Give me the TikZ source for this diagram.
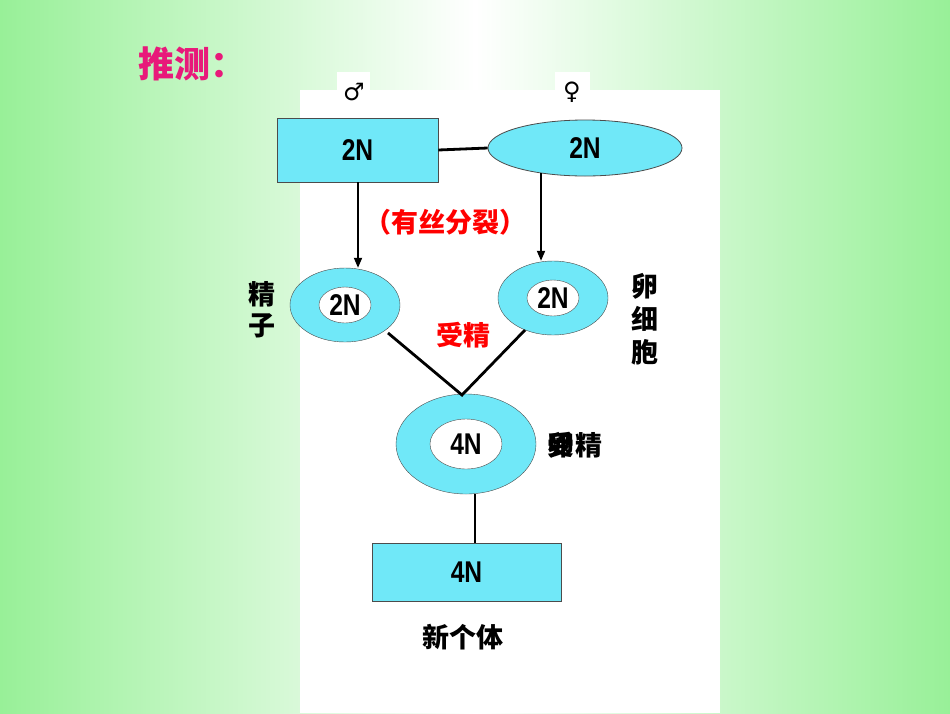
\documentclass[tikz,border=0pt]{standalone}
\usepackage{fontspec}
\setmainfont{Liberation Sans}
\newfontfamily\cjk{Noto Sans CJK SC}
\newfontfamily\narrow[FakeStretch=0.82]{Liberation Sans}
\usetikzlibrary{shapes.geometric,arrows.meta}
\definecolor{cy}{HTML}{70E8F8}
\definecolor{bgg}{HTML}{98F098}
\definecolor{mag}{HTML}{E8197A}
\begin{document}
\begin{tikzpicture}[x=1pt,y=-1pt,
  box/.style={draw=black!70,fill=cy,line width=0.8pt},
  lab/.style={font=\narrow\bfseries\fontsize{30}{32}\selectfont},
  cj/.style={font=\cjk\bfseries\fontsize{27}{30}\selectfont},
  ln/.style={line width=2.8pt}]
\useasboundingbox (0,0) rectangle (950,713);
\shade[left color=bgg,right color=white] (0,0) rectangle (475,713);
\shade[left color=white,right color=bgg] (475,0) rectangle (950,713);
\fill[white] (300,90) rectangle (720,713);
\fill[white] (337,72) rectangle (370,92);
\fill[white] (555,72) rectangle (590,92);
\node[font=\cjk\bfseries\fontsize{36}{40}\selectfont,text=mag] (title) at (192,64) {推测：};
\node[font=\fontsize{24}{26}\selectfont] (male) at (354,92) {\fontspec{DejaVu Sans}♂};
\node[font=\fontsize{24}{26}\selectfont] (female) at (572,92) {\fontspec{DejaVu Sans}♀};
\node[box,minimum width=161,minimum height=64,lab] (r1) at (357.5,150) {2N};
\node[box,ellipse,minimum width=194,minimum height=56,lab] (e1) at (585,148) {2N};
\draw[ln] (r1.east) -- (e1.west);
\node[draw=black!70,fill=cy,ellipse,minimum width=110,minimum height=74] (sp) at (345,305) {};
\node[draw=black!70,fill=white,ellipse,minimum width=52,minimum height=36,inner sep=0pt,lab] (spi) at (345,305) {2N};
\node[draw=black!70,fill=cy,ellipse,minimum width=110,minimum height=74] (eg) at (553,298) {};
\node[draw=black!70,fill=white,ellipse,minimum width=52,minimum height=36,inner sep=0pt,lab] (egi) at (553,298) {2N};
\coordinate (a1) at (358,182);
\coordinate (a2) at (541,173);
\draw[-{Triangle[length=10pt,width=8pt]},line width=1.8pt] (a1) -- (sp.north -| a1);
\draw[-{Triangle[length=10pt,width=8pt]},line width=1.8pt] (a2) -- (eg.north -| a2);
\node[cj,text=red] (mit) at (445,222) {（有丝分裂）};
\node[cj,inner sep=0pt] (jz1) at (262,294) {精};
\node[cj,inner sep=0pt] (jz2) at (262,326) {子};
\node[cj,inner sep=0pt] (lx1) at (645,286) {卵};
\node[cj,inner sep=0pt] (lx2) at (645,319) {细};
\node[cj,inner sep=0pt] (lx3) at (645,352) {胞};
\node[cj,text=red] (sj) at (463,335) {受精};
\node[draw=black!70,fill=cy,ellipse,minimum width=140,minimum height=100] (zy) at (466,444) {};
\node[draw=black!70,fill=white,ellipse,minimum width=72,minimum height=50,inner sep=0pt,lab] (zyi) at (466,444) {4N};
\coordinate (j) at (462,395);
\draw[ln] (388,333) -- (j) -- (525,330);
\node[cj] (sjl) at (561,445) {受};
\node[cj] (sjl2) at (561,445) {卵};
\node[cj] (sjl3) at (589,445) {精};
\node[box,minimum width=189,minimum height=58,lab] (r2) at (466.5,572) {4N};
\draw[ln] (zy.south -| 475,0) -- (r2.north -| 475,0);
\node[cj] (xgt) at (463,637) {新个体};
\end{tikzpicture}
\end{document}
